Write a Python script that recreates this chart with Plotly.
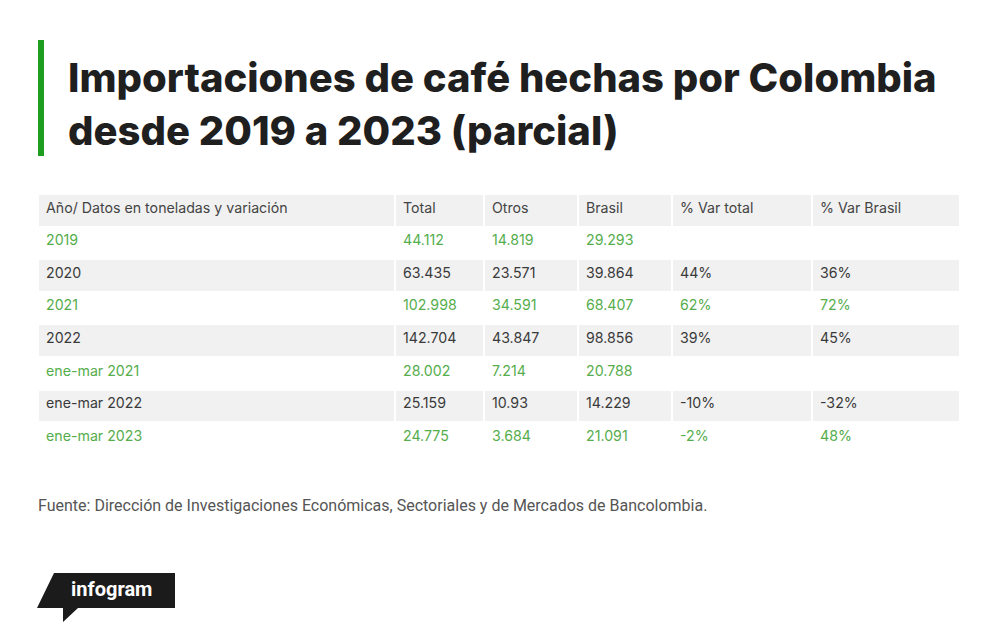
import plotly.graph_objects as go

# ---- data ----
header_labels = ["Año/ Datos en toneladas y variación", "Total", "Otros", "Brasil", "% Var total", "% Var Brasil"]
periods = ["2019", "2020", "2021", "2022", "ene-mar 2021", "ene-mar 2022", "ene-mar 2023"]
total = ["44.112", "63.435", "102.998", "142.704", "28.002", "25.159", "24.775"]
otros = ["14.819", "23.571", "34.591", "43.847", "7.214", "10.93", "3.684"]
brasil = ["29.293", "39.864", "68.407", "98.856", "20.788", "14.229", "21.091"]
var_total = ["", "44%", "62%", "39%", "", "-10%", "-2%"]
var_brasil = ["", "36%", "72%", "45%", "", "-32%", "48%"]

title_lines = ["Importaciones de café hechas por Colombia", "desde 2019 a 2023 (parcial)"]
source_text = "Fuente: Dirección de Investigaciones Económicas, Sectoriales y de Mercados de Bancolombia."

# ---- styles ----
OFF = 8                      # page body margin offset
W, H = 1000 - OFF, 641 - OFF
GREEN_TXT = "#55ad4c"
DARK_TXT = "#3a3a3a"
GREY_FILL = "#f1f1f1"
WHITE = "#ffffff"

def px(v):
    return v - OFF

n = len(periods)
row_font = [GREEN_TXT if i % 2 == 0 else DARK_TXT for i in range(n)]
row_fill = [WHITE if i % 2 == 0 else GREY_FILL for i in range(n)]
columns = [periods, total, otros, brasil, var_total, var_brasil]
ncol = len(columns)

tbl_left, tbl_right = px(38), px(960)
tbl_top = px(194)
row_h = 32.6
col_widths = [357, 89, 94, 94, 140, 148]

fig = go.Figure()
fig.add_trace(go.Table(
    domain=dict(x=[tbl_left / W, tbl_right / W], y=[0.05, 1 - tbl_top / H]),
    columnwidth=col_widths,
    header=dict(
        values=header_labels,
        align="left",
        height=row_h,
        fill_color=GREY_FILL,
        line=dict(color=WHITE, width=2),
        font=dict(family="Inter, Roboto, sans-serif", size=14.2, color="#444444"),
    ),
    cells=dict(
        values=columns,
        align="left",
        height=row_h,
        fill_color=[row_fill for _ in range(ncol)],
        line=dict(color=WHITE, width=2),
        font=dict(family="Inter, Roboto, sans-serif", size=14.2,
                  color=[row_font for _ in range(ncol)]),
    ),
))

# pixel-space helper axes (hidden)
fig.update_layout(
    width=W, height=H,
    margin=dict(l=0, r=0, t=0, b=0),
    paper_bgcolor="white", plot_bgcolor="white",
    xaxis=dict(range=[OFF, W + OFF], visible=False, domain=[0, 1], fixedrange=True),
    yaxis=dict(range=[H + OFF, OFF], visible=False, domain=[0, 1], fixedrange=True),
    showlegend=False,
)

# green accent bar
fig.add_shape(type="rect", x0=38, x1=44, y0=40, y1=156, xref="x", yref="y",
              fillcolor="#1e9e1e", line=dict(width=0), layer="above")

# title
for line, yc in zip(title_lines, [77, 130]):
    fig.add_annotation(x=66, y=yc, xref="x", yref="y", text=line, showarrow=False,
                       xanchor="left", yanchor="middle",
                       font=dict(family="Inter, Roboto, sans-serif", size=40, color="#1f1f1f", weight=800))

# source
fig.add_annotation(x=36, y=505, xref="x", yref="y", text=source_text, showarrow=False,
                   xanchor="left", yanchor="middle",
                   font=dict(family="Roboto, sans-serif", size=16, color="#555555"))

# infogram badge
fig.add_shape(type="path", xref="x", yref="y",
              path="M 54,573 L 175,573 L 175,608 L 78,608 L 63,622 L 63,608 L 37,608 Z",
              fillcolor="#1b1b1b", line=dict(width=0), layer="above")
fig.add_annotation(x=111, y=589, xref="x", yref="y", text="infogram", showarrow=False,
                   xanchor="center", yanchor="middle",
                   font=dict(family="Roboto, sans-serif", size=20, color="white", weight=700))

fig.write_html("out.html")
